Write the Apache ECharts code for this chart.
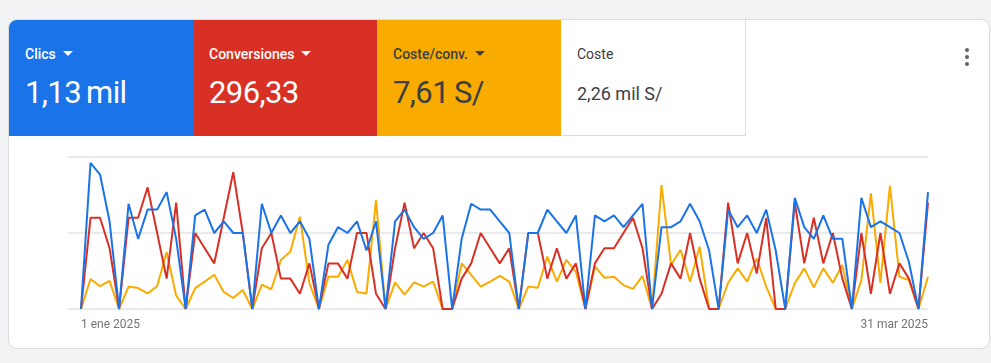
<!DOCTYPE html>
<html>
<head>
<meta charset="utf-8">
<script src="https://cdn.jsdelivr.net/npm/echarts@6/dist/echarts.min.js"></script>
<style>
  body { margin: 0; width: 991px; height: 363px; background: #f1f3f4; font-family: Roboto, Arial, sans-serif; position: relative; overflow: hidden; }
  .card { position: absolute; left: 9px; top: 20px; width: 980px; height: 328px; background: #fff; border-radius: 8px; box-shadow: 0 0 0 1px #dadce0; overflow: hidden; }
  .tile { position: absolute; top: 0; width: 184px; height: 116px; box-sizing: border-box; }
  .tile .name { position: absolute; left: 16px; top: 25px; font-size: 14px; font-weight: 500; line-height: 18px; white-space: nowrap; }
  .tile .val { position: absolute; left: 16px; top: 55px; font-size: 31px; line-height: 36px; white-space: nowrap; letter-spacing: -0.6px; word-spacing: -2px; }
  .arrow { display: inline-block; width: 0; height: 0; border-left: 5px solid transparent; border-right: 5px solid transparent; border-top: 5px solid currentColor; margin-left: 7px; vertical-align: 3px; }
  .kebab { position: absolute; left: 956px; top: 28px; width: 4px; }
  .kebab i { display: block; width: 4px; height: 4px; border-radius: 50%; background: #5f6368; margin-bottom: 3px; }
  #chart { position: absolute; left: 0; top: 0; width: 991px; height: 363px; }
</style>
</head>
<body>
<div class="card">
  <div class="tile" style="left:0;background:#1a73e8;color:#fff">
    <div class="name">Clics<span class="arrow"></span></div>
    <div class="val">1,13 mil</div>
  </div>
  <div class="tile" style="left:184px;background:#d93025;color:#fff">
    <div class="name">Conversiones<span class="arrow"></span></div>
    <div class="val">296,33</div>
  </div>
  <div class="tile" style="left:368px;background:#f9ab00;color:#202124">
    <div class="name" style="color:#3c4043">Coste/conv.<span class="arrow"></span></div>
    <div class="val" style="color:#3c4043">7,61 S/</div>
  </div>
  <div class="tile" style="left:552px;background:#fff;border-right:1px solid #dadce0;border-bottom:1px solid #dadce0;width:185px">
    <div class="name" style="color:#3c4043;font-weight:400">Coste</div>
    <div class="val" style="color:#3c4043;font-size:18px;line-height:24px;top:62px;letter-spacing:0;word-spacing:0">2,26 mil S/</div>
  </div>
  <div class="kebab"><i></i><i></i><i></i></div>
</div>
<div id="chart"></div>
<script>
// 1 ene 2025 .. 31 mar 2025
const months = ['ene', 'feb', 'mar']
const monthDays = [31, 28, 31]
const days = []
months.forEach((m, k) => {
  for (let d = 1; d <= monthDays[k]; d++) days.push(d + ' ' + m + ' 2025')
})

const clics = [
  0, 25, 23, 15, 0, 18, 12, 17, 17, 20, 12, 0, 16, 17, 13, 15, 13, 13, 0, 18,
  13, 16, 13, 15, 12, 0, 11, 14, 13, 15, 10, 15, 0, 15, 17, 14, 12, 13, 16, 0,
  12, 18, 17, 17, 15, 13, 0, 13, 13, 17, 15, 13, 16, 0, 16, 15, 16, 14, 16, 18,
  0, 14, 14, 15, 18, 15, 10, 0, 17, 14, 16, 13, 17, 10, 0, 19, 14, 12, 16, 12,
  12, 0, 19, 14, 15, 14, 13, 8, 0, 20
]
const conversiones = [
  0, 6, 6, 4, 0, 6, 6, 8, 5, 2, 7, 0, 5, 4, 3, 6, 9, 5, 0, 4,
  5, 2, 2, 1, 3, 0, 3, 3, 2, 5, 5, 1, 0, 4, 7, 4, 5, 4, 0, 0,
  2, 3, 5, 4, 3, 4, 0, 5, 5, 2, 4, 2, 3, 0, 3, 4, 4, 5, 6, 4,
  0, 1, 3, 2, 5, 2, 0, 0, 7, 3, 5, 2.33, 6, 0, 0, 7, 3, 6, 3, 5,
  2, 0, 5, 1, 5, 1, 3, 2, 0, 7
]
const costeConv = [
  0, 7.9, 6.0, 7.4, 0, 5.9, 5.5, 4.1, 6.0, 15.0, 3.5, 0, 5.5, 7.2, 9.0, 4.5, 2.9, 5.0, 0, 6.4,
  5.2, 12.9, 15.1, 24.3, 6.8, 0, 8.5, 8.5, 12.9, 4.5, 4.1, 28.7, 0, 7.0, 3.8, 7.0, 5.9, 7.2, 0, 0,
  12.0, 9.0, 5.9, 7.2, 8.7, 7.2, 0, 5.9, 5.6, 13.8, 7.2, 12.9, 9.8, 0, 11.2, 8.2, 8.5, 6.3, 5.3, 8.7,
  0, 32.6, 11.6, 15.6, 7.2, 16.4, 0, 0, 6.9, 10.7, 7.2, 13.3, 5.9, 0, 0, 6.8, 10.7, 5.7, 10.7, 6.9,
  11.6, 0, 7.6, 30.4, 6.9, 32.4, 8.5, 7.6, 0, 8.5
]

const myChart = echarts.init(document.getElementById('chart'))
const hidden = { show: false }
const option = {
  animation: false,
  grid: [
    { left: 68, right: 63, top: 157, bottom: 54, outerBoundsMode: 'none' }, // fondo con lineas
    { left: 81, right: 63, top: 157, bottom: 54, outerBoundsMode: 'none' }
  ],
  xAxis: [
    { gridIndex: 0, type: 'value', min: 0, max: 1, show: false },
    {
      gridIndex: 1,
      type: 'category',
      data: days,
      boundaryGap: false,
      axisLine: hidden,
      axisTick: hidden,
      splitLine: hidden,
      axisLabel: {
        interval: (i) => i === 0 || i === days.length - 1,
        alignMinLabel: 'left',
        alignMaxLabel: 'right',
        color: '#70757a',
        fontSize: 12,
        fontFamily: 'Roboto',
        margin: 10
      }
    }
  ],
  yAxis: [
    {
      gridIndex: 0, type: 'value', min: 0, max: 2, interval: 1,
      axisLabel: hidden, axisLine: hidden, axisTick: hidden,
      splitLine: { show: true, lineStyle: { color: '#e8eaed', width: 2 } }
    },
    { gridIndex: 1, type: 'value', min: 0, max: 26, show: false },
    { gridIndex: 1, type: 'value', min: 0, max: 10, show: false },
    { gridIndex: 1, type: 'value', min: 0, max: 40, show: false }
  ],
  series: [
    {
      name: 'Coste/conv.', type: 'line', xAxisIndex: 1, yAxisIndex: 3,
      data: costeConv, symbol: 'none', color: '#f9ab00', lineStyle: { width: 2 }
    },
    {
      name: 'Conversiones', type: 'line', xAxisIndex: 1, yAxisIndex: 2,
      data: conversiones, symbol: 'none', color: '#d93025', lineStyle: { width: 2 }
    },
    {
      name: 'Clics', type: 'line', xAxisIndex: 1, yAxisIndex: 1,
      data: clics, symbol: 'none', color: '#1a73e8', lineStyle: { width: 2 }
    }
  ]
}
myChart.setOption(option)
</script>
</body>
</html>
